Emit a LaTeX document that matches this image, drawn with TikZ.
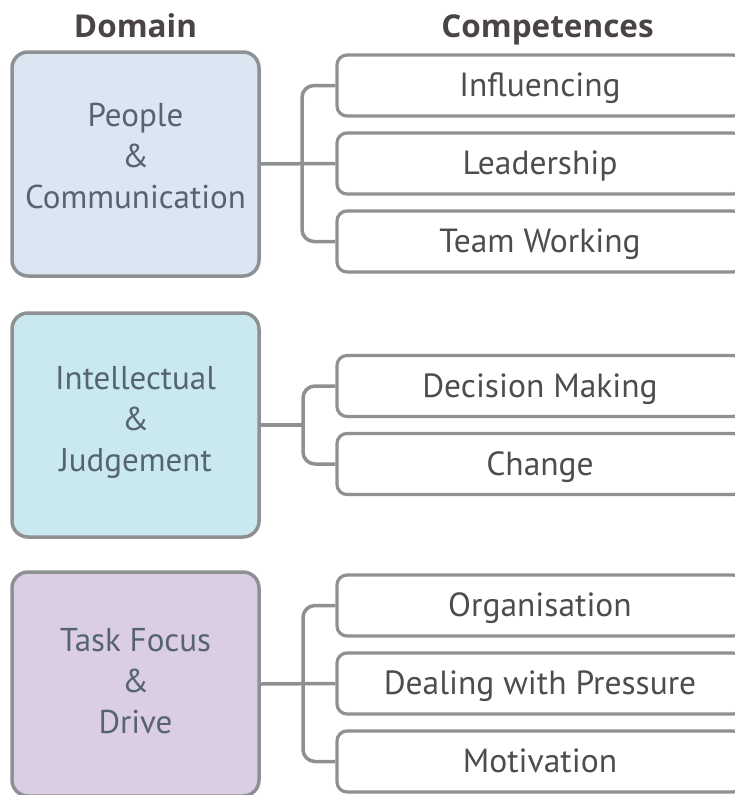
\documentclass[tikz,border=0pt]{standalone}
\usepackage{fontspec}
\setmainfont{PT Sans}
\newfontfamily\headfont{Open Sans}
\usetikzlibrary{positioning}

\definecolor{linegray}{HTML}{8F9091}
\definecolor{peoplefill}{HTML}{DCE5F2}
\definecolor{intelfill}{HTML}{C9E8EF}
\definecolor{taskfill}{HTML}{DBCEE4}
\definecolor{domtext}{HTML}{56656D}
\definecolor{comptext}{HTML}{4D4D4F}
\definecolor{headtext}{HTML}{4B4446}

\begin{document}
\begin{tikzpicture}[x=1pt,y=-1pt,
  dombox/.style={draw=linegray,line width=3.5pt,rounded corners=16pt,minimum width=247pt,minimum height=224pt},
  domlabel/.style={align=center,text=domtext,font=\fontsize{33}{41}\selectfont},
  compbox/.style={draw=linegray,line width=3.2pt,fill=white,rounded corners=10pt,minimum width=406pt,minimum height=61pt,text=comptext,text height=23.5pt,text depth=1.5pt,font=\fontsize{33.5}{36}\selectfont},
  head/.style={text=headtext,font=\fontsize{31.5}{34}\selectfont\headfont\bfseries},
  link/.style={draw=linegray,line width=3.5pt,rounded corners=12pt}]
\useasboundingbox (0,0) rectangle (735,795);
\clip (0,0) rectangle (735,795);

% headings
\node[head,anchor=base] (domhead) at (135.5,37) {Domain};
\node[head,anchor=base] (comphead) at (547.5,37) {Competences};

% domains
\node[dombox,fill=peoplefill] (people) at (135.5,164) {};
\node[dombox,fill=intelfill] (intel) at (135.5,425) {};
\node[dombox,fill=taskfill] (task) at (135.5,684) {};
\node[domlabel] (peopletext) at ([yshift=8pt]people.center) {People\\\&\\Communication};
\node[domlabel] (inteltext) at ([yshift=3pt]intel.center) {Intellectual\\\&\\Judgement};
\node[domlabel] (tasktext) at ([yshift=3pt]task.center) {Task Focus\\\&\\Drive};

% competences
\node[compbox] (infl) at (540,85.5) {Influencing};
\node[compbox,below=13.8pt of infl] (lead) {Leadership};
\node[compbox,below=13.8pt of lead] (team) {Team Working};

\node[compbox] (decis) at (540,386) {Decision Making};
\node[compbox,below=13.8pt of decis] (change) {Change};

\node[compbox] (organ) at (540,605.5) {Organisation};
\node[compbox,below=13.8pt of organ] (deal) {Dealing with Pressure};
\node[compbox,below=13.8pt of deal] (motiv) {Motivation};

% brackets
\coordinate (br1) at (302,164);
\coordinate (br2) at (303,425);
\coordinate (br3) at (303,684);

\draw[link] (people.east) -- (lead.west);
\draw[link] (infl.west) -| (br1) |- (team.west);

\draw[link] (intel.east) -- (br2);
\draw[link] (decis.west) -| (br2) |- (change.west);

\draw[link] (task.east) -- (deal.west);
\draw[link] (organ.west) -| (br3) |- (motiv.west);
\end{tikzpicture}
\end{document}
